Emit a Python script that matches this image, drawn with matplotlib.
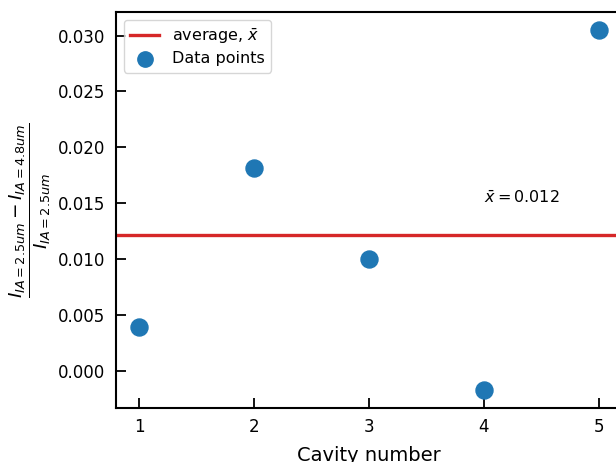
import numpy as np
import matplotlib
matplotlib.use("Agg")
import matplotlib.pyplot as plt

cavity = [1, 2, 3, 4, 5]
ratio = [0.0039, 0.0182, 0.0100, -0.0017, 0.0305]
mean_val = np.mean(ratio)

fig = plt.figure(figsize=(6.16, 4.62), dpi=100)
ax = fig.add_axes([0.1883, 0.1169, 0.8214, 0.8571])

ax.axhline(mean_val, color='#d62728', linewidth=2.4, label=r'average, $\bar{x}$')
ax.scatter(cavity, ratio, s=150, color='#1f77b4', zorder=3, label='Data points')
ax.text(4.0, 0.0155, r'$\bar{x} = %.3f$' % mean_val, fontsize=11.5, va='center')

ax.set_xlim(0.8, 5.2)
ax.set_xticks(cavity)
ax.set_xlabel('Cavity number', fontsize=14, labelpad=7)
ax.set_ylabel(r'$\frac{I_{IA=2.5um} - I_{IA=4.8um}}{I_{IA=2.5um}}$', fontsize=19, labelpad=4)
ax.tick_params(direction='in', length=7, width=1.3, labelsize=12, pad=7.5)
for sp in ax.spines.values():
    sp.set_linewidth(1.5)
ax.legend(loc='upper left', fontsize=11.5, labelspacing=0.35, markerscale=0.9,
          handlelength=1.8)

fig.savefig('out.png', dpi=100)
